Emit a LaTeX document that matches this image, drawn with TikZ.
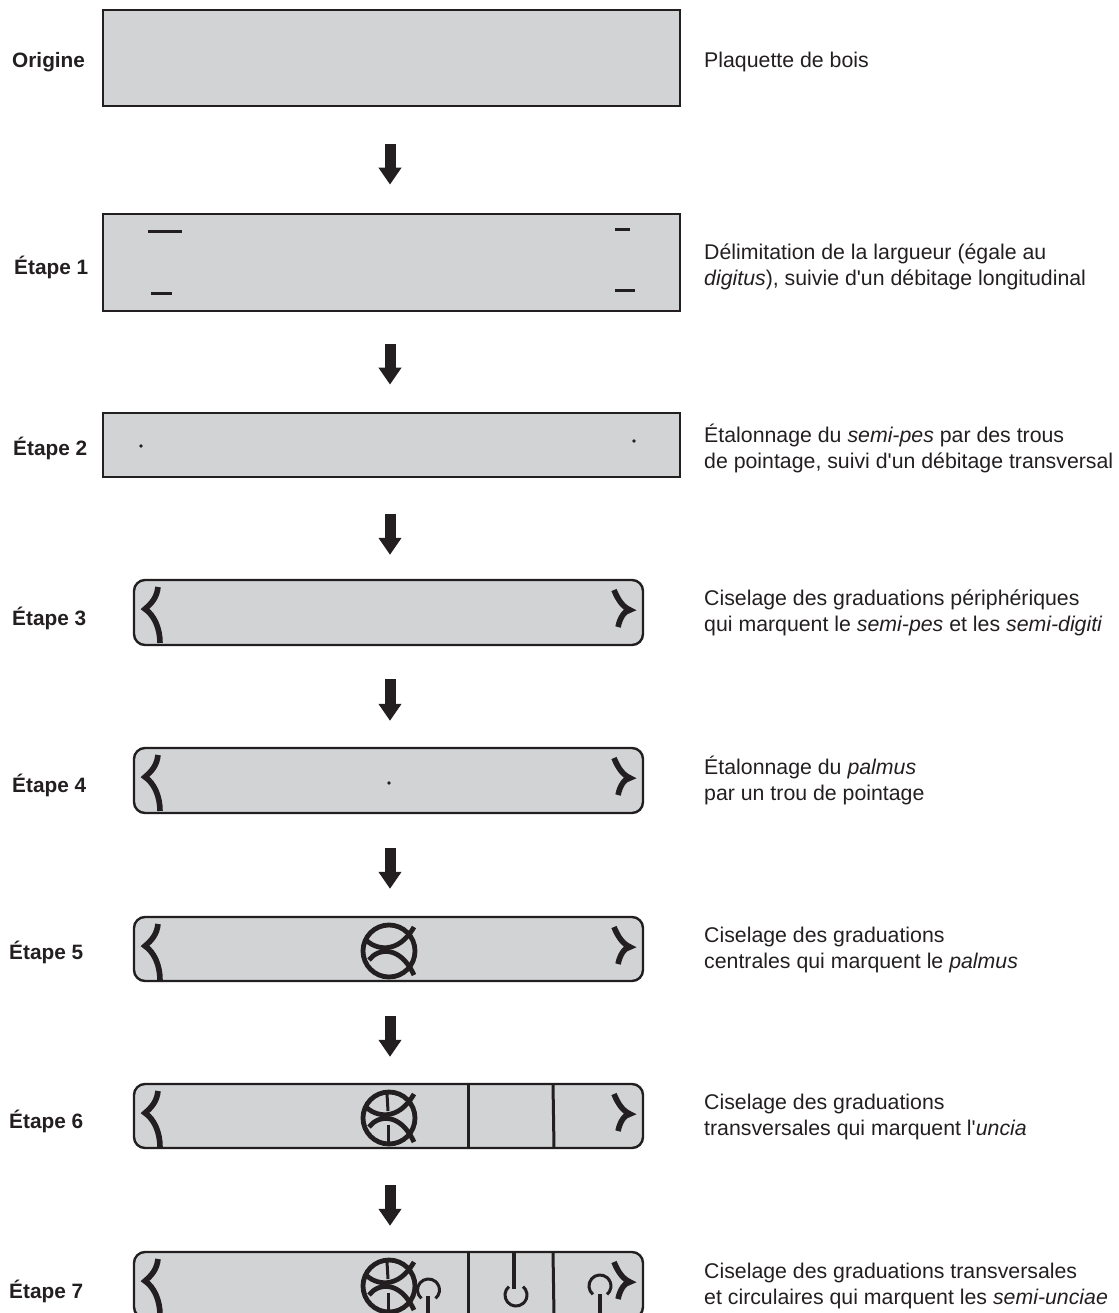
\documentclass[tikz,border=0pt]{standalone}
\usepackage{fontspec}
\setmainfont{Liberation Sans}[Ligatures=TeXOff]
\usepackage{xcolor}
\usetikzlibrary{arrows.meta}
\definecolor{plaquette}{HTML}{D1D3D4}
\definecolor{encre}{HTML}{231F20}
\tikzset{
  panelsquare/.style={draw=encre,fill=plaquette,line width=2.8pt,minimum width=577pt,inner sep=0pt},
  panelround/.style={draw=encre,fill=plaquette,line width=2.4pt,rounded corners=11pt,minimum width=509pt,inner sep=0pt},
  steplabel/.style={font=\fontsize{20.8}{26}\selectfont\bfseries,text=encre,anchor=west,inner sep=0pt},
  caption/.style={font=\fontsize{21.3}{26}\selectfont,text=encre,anchor=west,align=left,inner sep=0pt},
  flowarrow/.style={draw=encre,line width=11pt,-{Triangle[length=17pt,width=22pt]}},
  cut/.style={draw=encre,line width=3pt},
  graduation/.style={draw=encre,line width=4.8pt},
  perimark/.style={draw=encre,line width=5.6pt},
  thingrad/.style={draw=encre,line width=3pt}
}
\begin{document}
\begin{tikzpicture}[x=1pt,y=-1pt]
    \useasboundingbox (0,0) rectangle (1118,1313);
    \clip (0,0) rectangle (1118,1313);

    % Plaquettes
    \node[panelsquare,minimum height=96pt] (p0) at (391.5,58) {};
    \node[panelsquare,minimum height=97pt] (p1) at (391.5,262.5) {};
    \node[panelsquare,minimum height=64pt] (p2) at (391.5,445) {};
    \node[panelround,minimum height=65pt] (p3) at (388.5,612.5) {};
    \node[panelround,minimum height=65pt] (p4) at (388.5,780.5) {};
    \node[panelround,minimum height=64pt] (p5) at (388.5,949) {};
    \node[panelround,minimum height=64pt] (p6) at (388.5,1116) {};
    \node[panelround,minimum height=66pt] (p7) at (388.5,1285) {};

    % Flow
    \coordinate (axis) at (390,0);
    \foreach \a/\b/\s/\e in {p0/p1/37/28,p1/p2/32/27,p2/p3/36/24,p3/p4/33/26,p4/p5/34/27,p5/p6/34/26,p6/p7/36/25}
    \draw[flowarrow,shorten <=\s pt,shorten >=\e pt] (\a.south -| axis) -- (\b.north -| axis);

    % Etape 1
    \draw[cut] (148,232) -- (182,232);
    \draw[cut] (151,294) -- (172,294);
    \draw[cut] (615,230) -- (630,230);
    \draw[cut] (615,291) -- (635,291);

    % Etape 2 & 4
    \fill[encre] (141,446) circle (1.8);
    \fill[encre] (634,441) circle (1.8);
    \fill[encre] (389,783) circle (1.8);

    % Peripheral marks
    \foreach \y in {580,748,917,1084,1252} {
      \draw[perimark] (158,\y+7) .. controls (157,\y+17) and (152,\y+23) .. (145,\y+29)
        .. controls (154,\y+35) and (160,\y+48) .. (160,\y+63);
      \draw[perimark] (614,\y+10) .. controls (618,\y+20) and (623,\y+27) .. (630,\y+30)
        .. controls (624,\y+31) and (620,\y+38) .. (618,\y+47);
    }

    % Palmus
    \foreach \y in {917,1084,1252} {
      \draw[graduation] (389,\y+34) circle (26);
      \draw[graduation] (365,\y+22) .. controls (375,\y+33) and (398,\y+38) .. (414,\y+10);
      \draw[graduation] (369,\y+43) .. controls (378,\y+31) and (400,\y+28) .. (414,\y+58);
    }
    \foreach \y in {1084,1252} {
      \draw[thingrad] (387,\y+10) -- (388,\y+27);
      \draw[thingrad] (388,\y+41) -- (388,\y+59);
    }

    % Uncia
    \foreach \y in {1084,1252} {
      \draw[thingrad] (468,\y) -- (468,\y+64);
      \draw[thingrad] (553,\y) -- (554,\y+64);
    }

    % Semi-unciae
    \draw[thingrad] (421.4,1298.4) arc (130:410:11);
    \draw[graduation] (428,1296) -- (428,1316);
    \draw[thingrad] (508.9,1286.6) arc (-130:-410:11);
    \draw[graduation] (514,1252) -- (514,1289);
    \draw[thingrad] (592.9,1294.4) arc (130:410:11);
    \draw[graduation] (600,1294) -- (600,1316);

    % Labels
    \node[steplabel] (origine) at (12,62) {Origine};
    \node[steplabel] (etape1) at (14,267) {Étape 1};
    \node[steplabel] (etape2) at (13,448) {Étape 2};
    \node[steplabel] (etape3) at (12,618) {Étape 3};
    \node[steplabel] (etape4) at (12,785) {Étape 4};
    \node[steplabel] (etape5) at (9,952) {Étape 5};
    \node[steplabel] (etape6) at (9,1121) {Étape 6};
    \node[steplabel] (etape7) at (9,1291) {Étape 7};

    \node[caption] (c0) at (704,62) {Plaquette de bois};
    \node[caption] (c1) at (704,267) {Délimitation de la largueur (égale au\\\textit{digitus}), suivie d'un débitage longitudinal};
    \node[caption] (c2) at (704,448) {Étalonnage du \textit{semi-pes} par des trous\\de pointage, suivi d'un débitage transversal};
    \node[caption] (c3) at (704,613) {Ciselage des graduations périphériques\\qui marquent le \textit{semi-pes} et les \textit{semi-digiti}};
    \node[caption] (c4) at (704,780) {Étalonnage du \textit{palmus}\\par un trou de pointage};
    \node[caption] (c5) at (704,950) {Ciselage des graduations\\centrales qui marquent le \textit{palmus}};
    \node[caption] (c6) at (704,1117) {Ciselage des graduations\\transversales qui marquent l'\textit{uncia}};
    \node[caption] (c7) at (704,1286) {Ciselage des graduations transversales\\et circulaires qui marquent les \textit{semi-unciae}};
\end{tikzpicture}
\end{document}
